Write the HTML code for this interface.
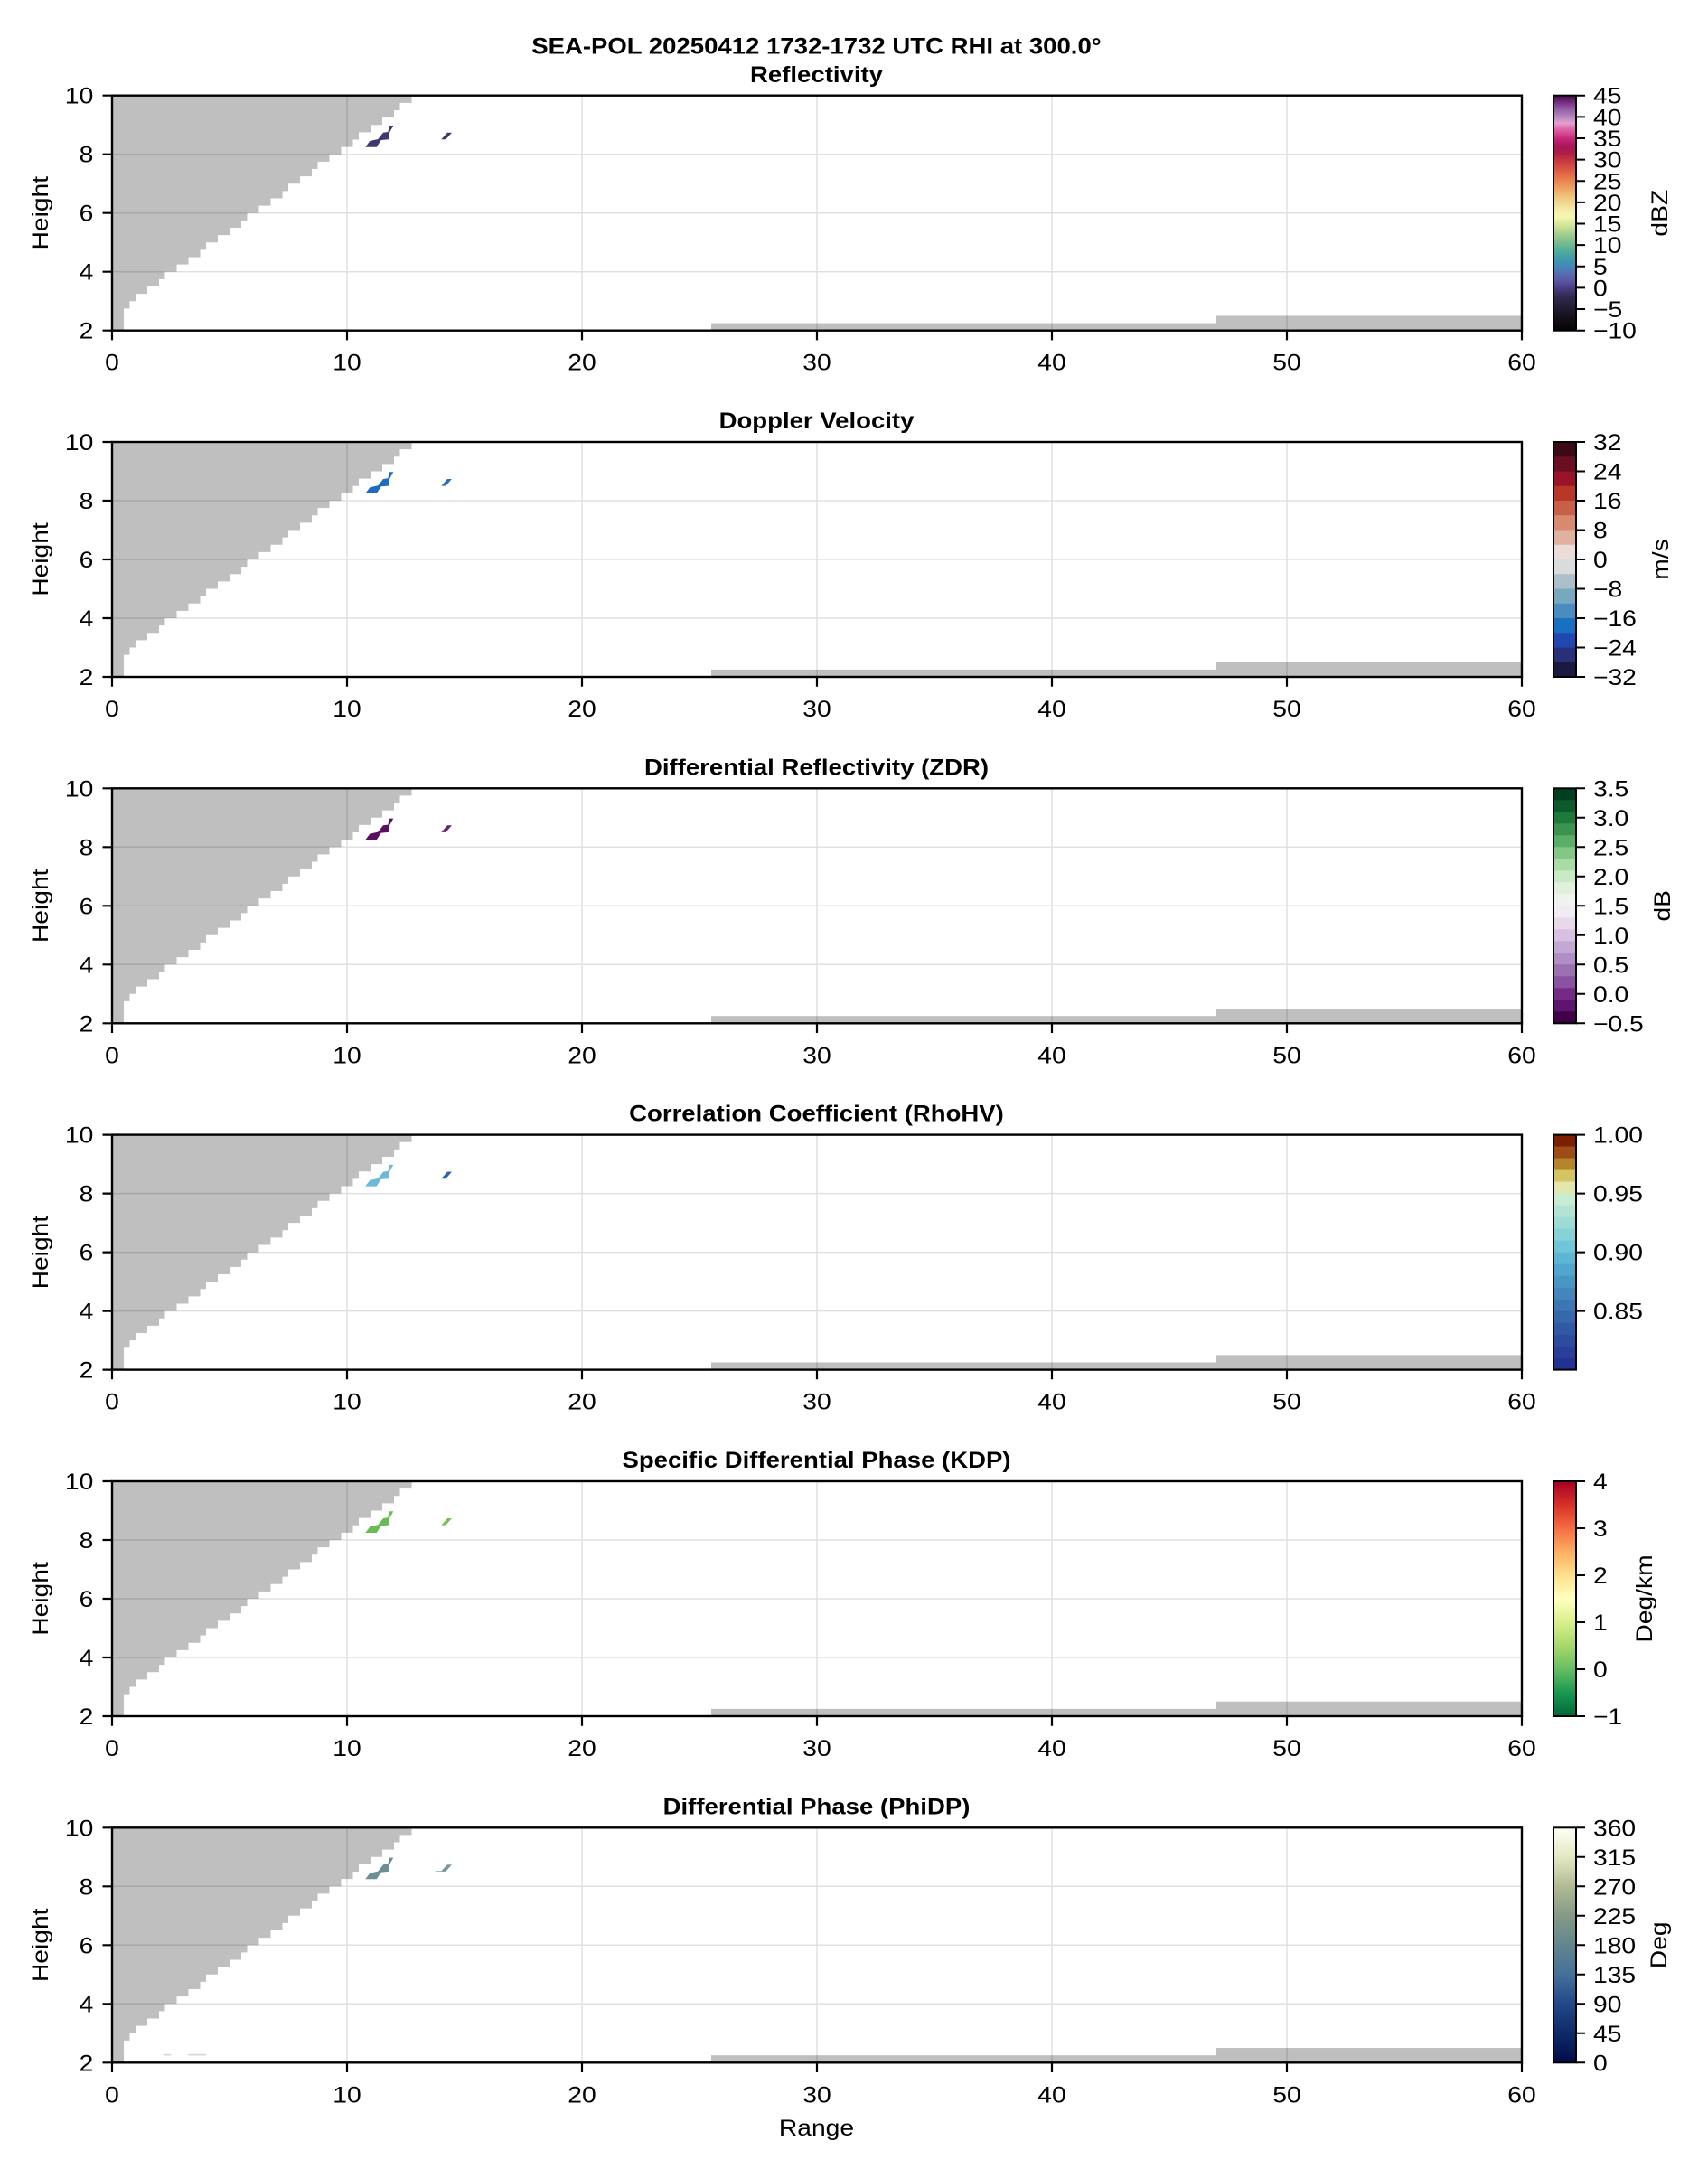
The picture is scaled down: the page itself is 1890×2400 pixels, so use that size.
<!DOCTYPE html>
<html><head><meta charset="utf-8"><style>
html,body{margin:0;padding:0;background:#fff;}
svg{display:block;}
text{font-family:"Liberation Sans",Arial,sans-serif;font-size:25px;fill:#000;}
.b{font-weight:bold;font-size:24.6px;}
</style></head><body>
<svg width="1890" height="2400" viewBox="0 0 1890 2400" xmlns="http://www.w3.org/2000/svg">
<defs>
<linearGradient id="gz" x1="0" y1="1" x2="0" y2="0">
<stop offset="0" stop-color="#050305"/><stop offset=".0364" stop-color="#100a12"/><stop offset=".0727" stop-color="#1a1424"/><stop offset=".1091" stop-color="#262038"/><stop offset=".1455" stop-color="#332a50"/><stop offset=".1818" stop-color="#4a3e86"/><stop offset=".2091" stop-color="#5a55a0"/><stop offset=".2364" stop-color="#5868ae"/><stop offset=".2636" stop-color="#4a80b8"/><stop offset=".2909" stop-color="#3e92b4"/><stop offset=".3182" stop-color="#44a2a4"/><stop offset=".3455" stop-color="#56b098"/><stop offset=".3727" stop-color="#78bc90"/><stop offset=".4" stop-color="#98c88e"/><stop offset=".4273" stop-color="#b8d890"/><stop offset=".4545" stop-color="#d8e89a"/><stop offset=".4818" stop-color="#f4f6b0"/><stop offset=".5091" stop-color="#f6eeac"/><stop offset=".5364" stop-color="#f2dc94"/><stop offset=".5636" stop-color="#f0c880"/><stop offset=".5909" stop-color="#eeb06a"/><stop offset=".6182" stop-color="#ec9658"/><stop offset=".6455" stop-color="#e87c4a"/><stop offset=".6727" stop-color="#e06244"/><stop offset=".7" stop-color="#d44a42"/><stop offset=".7273" stop-color="#c43440"/><stop offset=".7545" stop-color="#b01c48"/><stop offset=".7818" stop-color="#a81658"/><stop offset=".8091" stop-color="#c02070"/><stop offset=".8364" stop-color="#d44490"/><stop offset=".8636" stop-color="#e070b0"/><stop offset=".8818" stop-color="#e4a0cc"/><stop offset=".9" stop-color="#c490c4"/><stop offset=".9273" stop-color="#a070b0"/><stop offset=".9545" stop-color="#884a98"/><stop offset=".9818" stop-color="#641c6c"/><stop offset="1" stop-color="#4a0c4c"/>
</linearGradient>
<linearGradient id="gk" x1="0" y1="1" x2="0" y2="0">
<stop offset="0" stop-color="#006837"/><stop offset=".1" stop-color="#1a9850"/><stop offset=".2" stop-color="#66bd63"/><stop offset=".3" stop-color="#a6d96a"/><stop offset=".4" stop-color="#d9ef8b"/><stop offset=".5" stop-color="#ffffbf"/><stop offset=".6" stop-color="#fee08b"/><stop offset=".7" stop-color="#fdae61"/><stop offset=".8" stop-color="#f46d43"/><stop offset=".9" stop-color="#d73027"/><stop offset="1" stop-color="#a50026"/>
</linearGradient>
<linearGradient id="gp" x1="0" y1="1" x2="0" y2="0">
<stop offset="0" stop-color="#020c48"/><stop offset=".125" stop-color="#0e2a68"/><stop offset=".25" stop-color="#22488a"/><stop offset=".375" stop-color="#44709a"/><stop offset=".5" stop-color="#62868e"/><stop offset=".625" stop-color="#849a86"/><stop offset=".75" stop-color="#b0ba94"/><stop offset=".875" stop-color="#e4e8c2"/><stop offset="1" stop-color="#fefff4"/>
</linearGradient>
</defs>
<rect width="1890" height="2400" fill="#fff"/>

<text class="b" text-anchor="middle" transform="translate(903.5,59.7) scale(1.12,1)">SEA-POL 20250412 1732-1732 UTC RHI at 300.0°</text>

<!-- PANEL 1 -->
<g transform="translate(124,105.7)">
<path d="M0,0H331.5V8.125H318.5V16.25H312V24.375H299V32.5H286V40.625H273V48.75H266.5V56.875H253.5V65H240.5V73.125H227.5V81.25H221V89.375H208V97.5H195V105.625H188.5V113.75H175.5V121.875H162.5V130H149.5V138.125H143V146.25H130V154.375H117V162.5H104V170.625H97.5V178.75H84.5V186.875H71.5V195H58.5V203.125H52V211.25H39V219.375H26V227.5H19.5V235.625H13V260H0Z" fill="#bfbfbf"/>
<rect x="663" y="251.875" width="559" height="8.125" fill="#bfbfbf"/>
<rect x="1222" y="243.75" width="338" height="16.25" fill="#bfbfbf"/>
<polygon points="280.3,57 285.3,50.3 294.3,48.3 300,41 305.3,40.3 307,33.3 311.3,33.3 306.7,41.6 306,48.6 297.7,49.3 292.7,57" fill="#3e386e"/>
<polygon points="364.3,48.6 371,41 376,41 369.3,48.6" fill="#3e386e"/>
<path d="M260 0V260M520 0V260M780 0V260M1040 0V260M1300 0V260M0 65H1560M0 130H1560M0 195H1560" stroke="#000" stroke-opacity="0.12" stroke-width="1.5" fill="none"/>
<rect x="0" y="0" width="1560" height="260" fill="none" stroke="#000" stroke-width="2.4"/>
<path d="M0 260v10.7M260 260v10.7M520 260v10.7M780 260v10.7M1040 260v10.7M1300 260v10.7M1560 260v10.7M0 0h-10.5M0 65h-10.5M0 130h-10.5M0 195h-10.5M0 260h-10.5" stroke="#000" stroke-width="2.2"/>
<text class="b" text-anchor="middle" transform="translate(779.5,-14.5) scale(1.12,1)">Reflectivity</text>
<text text-anchor="middle" transform="translate(0,304) scale(1.13,1)">0</text>
<text text-anchor="middle" transform="translate(260,304) scale(1.13,1)">10</text>
<text text-anchor="middle" transform="translate(520,304) scale(1.13,1)">20</text>
<text text-anchor="middle" transform="translate(780,304) scale(1.13,1)">30</text>
<text text-anchor="middle" transform="translate(1040,304) scale(1.13,1)">40</text>
<text text-anchor="middle" transform="translate(1300,304) scale(1.13,1)">50</text>
<text text-anchor="middle" transform="translate(1560,304) scale(1.13,1)">60</text>
<text text-anchor="end" transform="translate(-20.7,9) scale(1.13,1)">10</text>
<text text-anchor="end" transform="translate(-20.7,74) scale(1.13,1)">8</text>
<text text-anchor="end" transform="translate(-20.7,139) scale(1.13,1)">6</text>
<text text-anchor="end" transform="translate(-20.7,204) scale(1.13,1)">4</text>
<text text-anchor="end" transform="translate(-20.7,269) scale(1.13,1)">2</text>
<text text-anchor="middle" transform="translate(-71,130) rotate(-90) scale(1.13,1)">Height</text>
<rect x="1595" y="0" width="25" height="260" fill="url(#gz)"/>
<rect x="1595" y="0" width="25" height="260" fill="none" stroke="#000" stroke-width="2"/>
<path d="M1620 260h10M1620 236.36h10M1620 212.73h10M1620 189.09h10M1620 165.45h10M1620 141.82h10M1620 118.18h10M1620 94.55h10M1620 70.91h10M1620 47.27h10M1620 23.64h10M1620 0h10" stroke="#000" stroke-width="2"/>
<text transform="translate(1639,269) scale(1.13,1)">−10</text>
<text transform="translate(1639,245.36) scale(1.13,1)">−5</text>
<text transform="translate(1639,221.73) scale(1.13,1)">0</text>
<text transform="translate(1639,198.09) scale(1.13,1)">5</text>
<text transform="translate(1639,174.45) scale(1.13,1)">10</text>
<text transform="translate(1639,150.82) scale(1.13,1)">15</text>
<text transform="translate(1639,127.18) scale(1.13,1)">20</text>
<text transform="translate(1639,103.55) scale(1.13,1)">25</text>
<text transform="translate(1639,79.91) scale(1.13,1)">30</text>
<text transform="translate(1639,56.27) scale(1.13,1)">35</text>
<text transform="translate(1639,32.64) scale(1.13,1)">40</text>
<text transform="translate(1639,9) scale(1.13,1)">45</text>
<text text-anchor="middle" transform="translate(1721,130) rotate(-90) scale(1.13,1)">dBZ</text>
</g>

<!-- PANEL 2 -->
<g transform="translate(124,489)">
<path d="M0,0H331.5V8.125H318.5V16.25H312V24.375H299V32.5H286V40.625H273V48.75H266.5V56.875H253.5V65H240.5V73.125H227.5V81.25H221V89.375H208V97.5H195V105.625H188.5V113.75H175.5V121.875H162.5V130H149.5V138.125H143V146.25H130V154.375H117V162.5H104V170.625H97.5V178.75H84.5V186.875H71.5V195H58.5V203.125H52V211.25H39V219.375H26V227.5H19.5V235.625H13V260H0Z" fill="#bfbfbf"/>
<rect x="663" y="251.875" width="559" height="8.125" fill="#bfbfbf"/>
<rect x="1222" y="243.75" width="338" height="16.25" fill="#bfbfbf"/>
<polygon points="280.3,57 285.3,50.3 294.3,48.3 300,41 305.3,40.3 307,33.3 311.3,33.3 306.7,41.6 306,48.6 297.7,49.3 292.7,57" fill="#1d6cc2"/>
<polygon points="364.3,48.6 371,41 376,41 369.3,48.6" fill="#2b6fc0"/>
<path d="M260 0V260M520 0V260M780 0V260M1040 0V260M1300 0V260M0 65H1560M0 130H1560M0 195H1560" stroke="#000" stroke-opacity="0.12" stroke-width="1.5" fill="none"/>
<rect x="0" y="0" width="1560" height="260" fill="none" stroke="#000" stroke-width="2.4"/>
<path d="M0 260v10.7M260 260v10.7M520 260v10.7M780 260v10.7M1040 260v10.7M1300 260v10.7M1560 260v10.7M0 0h-10.5M0 65h-10.5M0 130h-10.5M0 195h-10.5M0 260h-10.5" stroke="#000" stroke-width="2.2"/>
<text class="b" text-anchor="middle" transform="translate(779.5,-15) scale(1.12,1)">Doppler Velocity</text>
<text text-anchor="middle" transform="translate(0,304) scale(1.13,1)">0</text>
<text text-anchor="middle" transform="translate(260,304) scale(1.13,1)">10</text>
<text text-anchor="middle" transform="translate(520,304) scale(1.13,1)">20</text>
<text text-anchor="middle" transform="translate(780,304) scale(1.13,1)">30</text>
<text text-anchor="middle" transform="translate(1040,304) scale(1.13,1)">40</text>
<text text-anchor="middle" transform="translate(1300,304) scale(1.13,1)">50</text>
<text text-anchor="middle" transform="translate(1560,304) scale(1.13,1)">60</text>
<text text-anchor="end" transform="translate(-20.7,9) scale(1.13,1)">10</text>
<text text-anchor="end" transform="translate(-20.7,74) scale(1.13,1)">8</text>
<text text-anchor="end" transform="translate(-20.7,139) scale(1.13,1)">6</text>
<text text-anchor="end" transform="translate(-20.7,204) scale(1.13,1)">4</text>
<text text-anchor="end" transform="translate(-20.7,269) scale(1.13,1)">2</text>
<text text-anchor="middle" transform="translate(-71,130) rotate(-90) scale(1.13,1)">Height</text>
<rect x="1595" y="0" width="25" height="16.5" fill="#3c0a14"/>
<rect x="1595" y="16.25" width="25" height="16.5" fill="#6a0e24"/>
<rect x="1595" y="32.5" width="25" height="16.5" fill="#9a1428"/>
<rect x="1595" y="48.75" width="25" height="16.5" fill="#b83828"/>
<rect x="1595" y="65" width="25" height="16.5" fill="#c86048"/>
<rect x="1595" y="81.25" width="25" height="16.5" fill="#d88a70"/>
<rect x="1595" y="97.5" width="25" height="16.5" fill="#e0b0a0"/>
<rect x="1595" y="113.75" width="25" height="16.5" fill="#ecdcd8"/>
<rect x="1595" y="130" width="25" height="16.5" fill="#d8dcdc"/>
<rect x="1595" y="146.25" width="25" height="16.5" fill="#aabfc8"/>
<rect x="1595" y="162.5" width="25" height="16.5" fill="#78a8c0"/>
<rect x="1595" y="178.75" width="25" height="16.5" fill="#4a8cc0"/>
<rect x="1595" y="195" width="25" height="16.5" fill="#1a70c0"/>
<rect x="1595" y="211.25" width="25" height="16.5" fill="#2048b0"/>
<rect x="1595" y="227.5" width="25" height="16.5" fill="#283078"/>
<rect x="1595" y="243.75" width="25" height="16.25" fill="#1a1a40"/>
<rect x="1595" y="0" width="25" height="260" fill="none" stroke="#000" stroke-width="2"/>
<path d="M1620 0h10M1620 32.5h10M1620 65h10M1620 97.5h10M1620 130h10M1620 162.5h10M1620 195h10M1620 227.5h10M1620 260h10" stroke="#000" stroke-width="2"/>
<text transform="translate(1639,9) scale(1.13,1)">32</text>
<text transform="translate(1639,41.5) scale(1.13,1)">24</text>
<text transform="translate(1639,74) scale(1.13,1)">16</text>
<text transform="translate(1639,106.5) scale(1.13,1)">8</text>
<text transform="translate(1639,139) scale(1.13,1)">0</text>
<text transform="translate(1639,171.5) scale(1.13,1)">−8</text>
<text transform="translate(1639,204) scale(1.13,1)">−16</text>
<text transform="translate(1639,236.5) scale(1.13,1)">−24</text>
<text transform="translate(1639,269) scale(1.13,1)">−32</text>
<text text-anchor="middle" transform="translate(1722,130) rotate(-90) scale(1.13,1)">m/s</text>
</g>

<!-- PANEL 3 -->
<g transform="translate(124,872.3)">
<path d="M0,0H331.5V8.125H318.5V16.25H312V24.375H299V32.5H286V40.625H273V48.75H266.5V56.875H253.5V65H240.5V73.125H227.5V81.25H221V89.375H208V97.5H195V105.625H188.5V113.75H175.5V121.875H162.5V130H149.5V138.125H143V146.25H130V154.375H117V162.5H104V170.625H97.5V178.75H84.5V186.875H71.5V195H58.5V203.125H52V211.25H39V219.375H26V227.5H19.5V235.625H13V260H0Z" fill="#bfbfbf"/>
<rect x="663" y="251.875" width="559" height="8.125" fill="#bfbfbf"/>
<rect x="1222" y="243.75" width="338" height="16.25" fill="#bfbfbf"/>
<polygon points="280.3,57 285.3,50.3 294.3,48.3 300,41 305.3,40.3 307,33.3 311.3,33.3 306.7,41.6 306,48.6 297.7,49.3 292.7,57" fill="#5a0f62"/>
<polygon points="364.3,48.6 371,41 376,41 369.3,48.6" fill="#6a2078"/>
<path d="M260 0V260M520 0V260M780 0V260M1040 0V260M1300 0V260M0 65H1560M0 130H1560M0 195H1560" stroke="#000" stroke-opacity="0.12" stroke-width="1.5" fill="none"/>
<rect x="0" y="0" width="1560" height="260" fill="none" stroke="#000" stroke-width="2.4"/>
<path d="M0 260v10.7M260 260v10.7M520 260v10.7M780 260v10.7M1040 260v10.7M1300 260v10.7M1560 260v10.7M0 0h-10.5M0 65h-10.5M0 130h-10.5M0 195h-10.5M0 260h-10.5" stroke="#000" stroke-width="2.2"/>
<text class="b" text-anchor="middle" transform="translate(779.5,-15) scale(1.12,1)">Differential Reflectivity (ZDR)</text>
<text text-anchor="middle" transform="translate(0,304) scale(1.13,1)">0</text>
<text text-anchor="middle" transform="translate(260,304) scale(1.13,1)">10</text>
<text text-anchor="middle" transform="translate(520,304) scale(1.13,1)">20</text>
<text text-anchor="middle" transform="translate(780,304) scale(1.13,1)">30</text>
<text text-anchor="middle" transform="translate(1040,304) scale(1.13,1)">40</text>
<text text-anchor="middle" transform="translate(1300,304) scale(1.13,1)">50</text>
<text text-anchor="middle" transform="translate(1560,304) scale(1.13,1)">60</text>
<text text-anchor="end" transform="translate(-20.7,9) scale(1.13,1)">10</text>
<text text-anchor="end" transform="translate(-20.7,74) scale(1.13,1)">8</text>
<text text-anchor="end" transform="translate(-20.7,139) scale(1.13,1)">6</text>
<text text-anchor="end" transform="translate(-20.7,204) scale(1.13,1)">4</text>
<text text-anchor="end" transform="translate(-20.7,269) scale(1.13,1)">2</text>
<text text-anchor="middle" transform="translate(-71,130) rotate(-90) scale(1.13,1)">Height</text>
<rect x="1595" y="0" width="25" height="13.3" fill="#004020"/>
<rect x="1595" y="13" width="25" height="13.3" fill="#0e5a2a"/>
<rect x="1595" y="26" width="25" height="13.3" fill="#1e7a3a"/>
<rect x="1595" y="39" width="25" height="13.3" fill="#3a9450"/>
<rect x="1595" y="52" width="25" height="13.3" fill="#5aae68"/>
<rect x="1595" y="65" width="25" height="13.3" fill="#84c686"/>
<rect x="1595" y="78" width="25" height="13.3" fill="#a8dca4"/>
<rect x="1595" y="91" width="25" height="13.3" fill="#c8eac4"/>
<rect x="1595" y="104" width="25" height="13.3" fill="#e0f0dc"/>
<rect x="1595" y="117" width="25" height="13.3" fill="#f0f2ee"/>
<rect x="1595" y="130" width="25" height="13.3" fill="#f2ecf2"/>
<rect x="1595" y="143" width="25" height="13.3" fill="#e8d8ea"/>
<rect x="1595" y="156" width="25" height="13.3" fill="#d8c0e0"/>
<rect x="1595" y="169" width="25" height="13.3" fill="#c4a8d4"/>
<rect x="1595" y="182" width="25" height="13.3" fill="#b090c4"/>
<rect x="1595" y="195" width="25" height="13.3" fill="#9a70b0"/>
<rect x="1595" y="208" width="25" height="13.3" fill="#8a52a0"/>
<rect x="1595" y="221" width="25" height="13.3" fill="#762a88"/>
<rect x="1595" y="234" width="25" height="13.3" fill="#5e1470"/>
<rect x="1595" y="247" width="25" height="13" fill="#42004a"/>
<rect x="1595" y="0" width="25" height="260" fill="none" stroke="#000" stroke-width="2"/>
<path d="M1620 0h10M1620 32.5h10M1620 65h10M1620 97.5h10M1620 130h10M1620 162.5h10M1620 195h10M1620 227.5h10M1620 260h10" stroke="#000" stroke-width="2"/>
<text transform="translate(1639,9) scale(1.13,1)">3.5</text>
<text transform="translate(1639,41.5) scale(1.13,1)">3.0</text>
<text transform="translate(1639,74) scale(1.13,1)">2.5</text>
<text transform="translate(1639,106.5) scale(1.13,1)">2.0</text>
<text transform="translate(1639,139) scale(1.13,1)">1.5</text>
<text transform="translate(1639,171.5) scale(1.13,1)">1.0</text>
<text transform="translate(1639,204) scale(1.13,1)">0.5</text>
<text transform="translate(1639,236.5) scale(1.13,1)">0.0</text>
<text transform="translate(1639,269) scale(1.13,1)">−0.5</text>
<text text-anchor="middle" transform="translate(1724,130) rotate(-90) scale(1.13,1)">dB</text>
</g>

<!-- PANEL 4 -->
<g transform="translate(124,1255.6)">
<path d="M0,0H331.5V8.125H318.5V16.25H312V24.375H299V32.5H286V40.625H273V48.75H266.5V56.875H253.5V65H240.5V73.125H227.5V81.25H221V89.375H208V97.5H195V105.625H188.5V113.75H175.5V121.875H162.5V130H149.5V138.125H143V146.25H130V154.375H117V162.5H104V170.625H97.5V178.75H84.5V186.875H71.5V195H58.5V203.125H52V211.25H39V219.375H26V227.5H19.5V235.625H13V260H0Z" fill="#bfbfbf"/>
<rect x="663" y="251.875" width="559" height="8.125" fill="#bfbfbf"/>
<rect x="1222" y="243.75" width="338" height="16.25" fill="#bfbfbf"/>
<polygon points="280.3,57 285.3,50.3 294.3,48.3 300,41 305.3,40.3 307,33.3 311.3,33.3 306.7,41.6 306,48.6 297.7,49.3 292.7,57" fill="#6cb9d9"/>
<polygon points="364.3,48.6 371,41 376,41 369.3,48.6" fill="#2b62ae"/>
<path d="M260 0V260M520 0V260M780 0V260M1040 0V260M1300 0V260M0 65H1560M0 130H1560M0 195H1560" stroke="#000" stroke-opacity="0.12" stroke-width="1.5" fill="none"/>
<rect x="0" y="0" width="1560" height="260" fill="none" stroke="#000" stroke-width="2.4"/>
<path d="M0 260v10.7M260 260v10.7M520 260v10.7M780 260v10.7M1040 260v10.7M1300 260v10.7M1560 260v10.7M0 0h-10.5M0 65h-10.5M0 130h-10.5M0 195h-10.5M0 260h-10.5" stroke="#000" stroke-width="2.2"/>
<text class="b" text-anchor="middle" transform="translate(779.5,-15) scale(1.12,1)">Correlation Coefficient (RhoHV)</text>
<text text-anchor="middle" transform="translate(0,304) scale(1.13,1)">0</text>
<text text-anchor="middle" transform="translate(260,304) scale(1.13,1)">10</text>
<text text-anchor="middle" transform="translate(520,304) scale(1.13,1)">20</text>
<text text-anchor="middle" transform="translate(780,304) scale(1.13,1)">30</text>
<text text-anchor="middle" transform="translate(1040,304) scale(1.13,1)">40</text>
<text text-anchor="middle" transform="translate(1300,304) scale(1.13,1)">50</text>
<text text-anchor="middle" transform="translate(1560,304) scale(1.13,1)">60</text>
<text text-anchor="end" transform="translate(-20.7,9) scale(1.13,1)">10</text>
<text text-anchor="end" transform="translate(-20.7,74) scale(1.13,1)">8</text>
<text text-anchor="end" transform="translate(-20.7,139) scale(1.13,1)">6</text>
<text text-anchor="end" transform="translate(-20.7,204) scale(1.13,1)">4</text>
<text text-anchor="end" transform="translate(-20.7,269) scale(1.13,1)">2</text>
<text text-anchor="middle" transform="translate(-71,130) rotate(-90) scale(1.13,1)">Height</text>
<rect x="1595" y="0" width="25" height="13.3" fill="#7c1e00"/>
<rect x="1595" y="13" width="25" height="13.3" fill="#9c4c14"/>
<rect x="1595" y="26" width="25" height="13.3" fill="#b4862c"/>
<rect x="1595" y="39" width="25" height="13.3" fill="#d4c462"/>
<rect x="1595" y="52" width="25" height="13.3" fill="#e2e6ae"/>
<rect x="1595" y="65" width="25" height="13.3" fill="#c8ecd0"/>
<rect x="1595" y="78" width="25" height="13.3" fill="#b2e4d4"/>
<rect x="1595" y="91" width="25" height="13.3" fill="#9cdcd4"/>
<rect x="1595" y="104" width="25" height="13.3" fill="#86d2d6"/>
<rect x="1595" y="117" width="25" height="13.3" fill="#70c6d8"/>
<rect x="1595" y="130" width="25" height="13.3" fill="#5cb6d4"/>
<rect x="1595" y="143" width="25" height="13.3" fill="#50a6cc"/>
<rect x="1595" y="156" width="25" height="13.3" fill="#4896c4"/>
<rect x="1595" y="169" width="25" height="13.3" fill="#4286bc"/>
<rect x="1595" y="182" width="25" height="13.3" fill="#3c76b4"/>
<rect x="1595" y="195" width="25" height="13.3" fill="#3668ac"/>
<rect x="1595" y="208" width="25" height="13.3" fill="#305aa4"/>
<rect x="1595" y="221" width="25" height="13.3" fill="#2c4c9e"/>
<rect x="1595" y="234" width="25" height="13.3" fill="#283e98"/>
<rect x="1595" y="247" width="25" height="13" fill="#223292"/>
<rect x="1595" y="0" width="25" height="260" fill="none" stroke="#000" stroke-width="2"/>
<path d="M1620 0h10M1620 65h10M1620 130h10M1620 195h10" stroke="#000" stroke-width="2"/>
<text transform="translate(1639,9) scale(1.13,1)">1.00</text>
<text transform="translate(1639,74) scale(1.13,1)">0.95</text>
<text transform="translate(1639,139) scale(1.13,1)">0.90</text>
<text transform="translate(1639,204) scale(1.13,1)">0.85</text>
</g>

<!-- PANEL 5 -->
<g transform="translate(124,1639)">
<path d="M0,0H331.5V8.125H318.5V16.25H312V24.375H299V32.5H286V40.625H273V48.75H266.5V56.875H253.5V65H240.5V73.125H227.5V81.25H221V89.375H208V97.5H195V105.625H188.5V113.75H175.5V121.875H162.5V130H149.5V138.125H143V146.25H130V154.375H117V162.5H104V170.625H97.5V178.75H84.5V186.875H71.5V195H58.5V203.125H52V211.25H39V219.375H26V227.5H19.5V235.625H13V260H0Z" fill="#bfbfbf"/>
<rect x="663" y="251.875" width="559" height="8.125" fill="#bfbfbf"/>
<rect x="1222" y="243.75" width="338" height="16.25" fill="#bfbfbf"/>
<polygon points="280.3,57 285.3,50.3 294.3,48.3 300,41 305.3,40.3 307,33.3 311.3,33.3 306.7,41.6 306,48.6 297.7,49.3 292.7,57" fill="#68bd52"/>
<polygon points="364.3,48.6 371,41 376,41 369.3,48.6" fill="#74c35a"/>
<path d="M260 0V260M520 0V260M780 0V260M1040 0V260M1300 0V260M0 65H1560M0 130H1560M0 195H1560" stroke="#000" stroke-opacity="0.12" stroke-width="1.5" fill="none"/>
<rect x="0" y="0" width="1560" height="260" fill="none" stroke="#000" stroke-width="2.4"/>
<path d="M0 260v10.7M260 260v10.7M520 260v10.7M780 260v10.7M1040 260v10.7M1300 260v10.7M1560 260v10.7M0 0h-10.5M0 65h-10.5M0 130h-10.5M0 195h-10.5M0 260h-10.5" stroke="#000" stroke-width="2.2"/>
<text class="b" text-anchor="middle" transform="translate(779.5,-15) scale(1.12,1)">Specific Differential Phase (KDP)</text>
<text text-anchor="middle" transform="translate(0,304) scale(1.13,1)">0</text>
<text text-anchor="middle" transform="translate(260,304) scale(1.13,1)">10</text>
<text text-anchor="middle" transform="translate(520,304) scale(1.13,1)">20</text>
<text text-anchor="middle" transform="translate(780,304) scale(1.13,1)">30</text>
<text text-anchor="middle" transform="translate(1040,304) scale(1.13,1)">40</text>
<text text-anchor="middle" transform="translate(1300,304) scale(1.13,1)">50</text>
<text text-anchor="middle" transform="translate(1560,304) scale(1.13,1)">60</text>
<text text-anchor="end" transform="translate(-20.7,9) scale(1.13,1)">10</text>
<text text-anchor="end" transform="translate(-20.7,74) scale(1.13,1)">8</text>
<text text-anchor="end" transform="translate(-20.7,139) scale(1.13,1)">6</text>
<text text-anchor="end" transform="translate(-20.7,204) scale(1.13,1)">4</text>
<text text-anchor="end" transform="translate(-20.7,269) scale(1.13,1)">2</text>
<text text-anchor="middle" transform="translate(-71,130) rotate(-90) scale(1.13,1)">Height</text>
<rect x="1595" y="0" width="25" height="260" fill="url(#gk)"/>
<rect x="1595" y="0" width="25" height="260" fill="none" stroke="#000" stroke-width="2"/>
<path d="M1620 0h10M1620 52h10M1620 104h10M1620 156h10M1620 208h10M1620 260h10" stroke="#000" stroke-width="2"/>
<text transform="translate(1639,9) scale(1.13,1)">4</text>
<text transform="translate(1639,61) scale(1.13,1)">3</text>
<text transform="translate(1639,113) scale(1.13,1)">2</text>
<text transform="translate(1639,165) scale(1.13,1)">1</text>
<text transform="translate(1639,217) scale(1.13,1)">0</text>
<text transform="translate(1639,269) scale(1.13,1)">−1</text>
<text text-anchor="middle" transform="translate(1704,130) rotate(-90) scale(1.13,1)">Deg/km</text>
</g>

<!-- PANEL 6 -->
<g transform="translate(124,2022.3)">
<path d="M0,0H331.5V8.125H318.5V16.25H312V24.375H299V32.5H286V40.625H273V48.75H266.5V56.875H253.5V65H240.5V73.125H227.5V81.25H221V89.375H208V97.5H195V105.625H188.5V113.75H175.5V121.875H162.5V130H149.5V138.125H143V146.25H130V154.375H117V162.5H104V170.625H97.5V178.75H84.5V186.875H71.5V195H58.5V203.125H52V211.25H39V219.375H26V227.5H19.5V235.625H13V260H0Z" fill="#bfbfbf"/>
<rect x="663" y="251.875" width="559" height="8.125" fill="#bfbfbf"/>
<rect x="1222" y="243.75" width="338" height="16.25" fill="#bfbfbf"/>
<rect x="57.7" y="250.5" width="7.6" height="1.6" fill="#cfd6de"/>
<rect x="84.3" y="250.5" width="20" height="1.6" fill="#cfd6de"/>
<polygon points="280.3,57 285.3,50.3 294.3,48.3 300,41 305.3,40.3 307,33.3 311.3,33.3 306.7,41.6 306,48.6 297.7,49.3 292.7,57" fill="#6d8e93"/>
<polygon points="357.7,48 364.3,48 371,41 376,41 369.3,48.6 357.7,48.6" fill="#7898a0"/>
<path d="M260 0V260M520 0V260M780 0V260M1040 0V260M1300 0V260M0 65H1560M0 130H1560M0 195H1560" stroke="#000" stroke-opacity="0.12" stroke-width="1.5" fill="none"/>
<rect x="0" y="0" width="1560" height="260" fill="none" stroke="#000" stroke-width="2.4"/>
<path d="M0 260v10.7M260 260v10.7M520 260v10.7M780 260v10.7M1040 260v10.7M1300 260v10.7M1560 260v10.7M0 0h-10.5M0 65h-10.5M0 130h-10.5M0 195h-10.5M0 260h-10.5" stroke="#000" stroke-width="2.2"/>
<text class="b" text-anchor="middle" transform="translate(779.5,-15) scale(1.12,1)">Differential Phase (PhiDP)</text>
<text text-anchor="middle" transform="translate(0,304) scale(1.13,1)">0</text>
<text text-anchor="middle" transform="translate(260,304) scale(1.13,1)">10</text>
<text text-anchor="middle" transform="translate(520,304) scale(1.13,1)">20</text>
<text text-anchor="middle" transform="translate(780,304) scale(1.13,1)">30</text>
<text text-anchor="middle" transform="translate(1040,304) scale(1.13,1)">40</text>
<text text-anchor="middle" transform="translate(1300,304) scale(1.13,1)">50</text>
<text text-anchor="middle" transform="translate(1560,304) scale(1.13,1)">60</text>
<text text-anchor="end" transform="translate(-20.7,9) scale(1.13,1)">10</text>
<text text-anchor="end" transform="translate(-20.7,74) scale(1.13,1)">8</text>
<text text-anchor="end" transform="translate(-20.7,139) scale(1.13,1)">6</text>
<text text-anchor="end" transform="translate(-20.7,204) scale(1.13,1)">4</text>
<text text-anchor="end" transform="translate(-20.7,269) scale(1.13,1)">2</text>
<text text-anchor="middle" transform="translate(-71,130) rotate(-90) scale(1.13,1)">Height</text>
<text text-anchor="middle" transform="translate(779.5,340.5) scale(1.13,1)">Range</text>
<rect x="1595" y="0" width="25" height="260" fill="url(#gp)"/>
<rect x="1595" y="0" width="25" height="260" fill="none" stroke="#000" stroke-width="2"/>
<path d="M1620 0h10M1620 32.5h10M1620 65h10M1620 97.5h10M1620 130h10M1620 162.5h10M1620 195h10M1620 227.5h10M1620 260h10" stroke="#000" stroke-width="2"/>
<text transform="translate(1639,9) scale(1.13,1)">360</text>
<text transform="translate(1639,41.5) scale(1.13,1)">315</text>
<text transform="translate(1639,74) scale(1.13,1)">270</text>
<text transform="translate(1639,106.5) scale(1.13,1)">225</text>
<text transform="translate(1639,139) scale(1.13,1)">180</text>
<text transform="translate(1639,171.5) scale(1.13,1)">135</text>
<text transform="translate(1639,204) scale(1.13,1)">90</text>
<text transform="translate(1639,236.5) scale(1.13,1)">45</text>
<text transform="translate(1639,269) scale(1.13,1)">0</text>
<text text-anchor="middle" transform="translate(1720,130) rotate(-90) scale(1.13,1)">Deg</text>
</g>
</svg>
</body></html>
